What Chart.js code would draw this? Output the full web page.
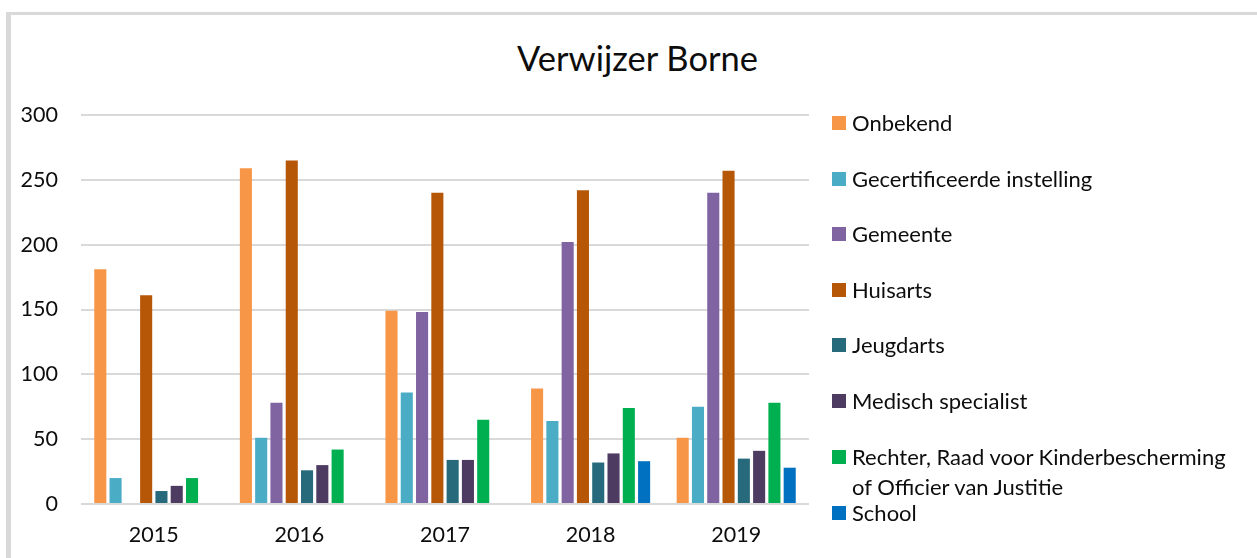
<!DOCTYPE html>
<html>
<head>
<meta charset="utf-8">
<script src="https://cdn.jsdelivr.net/npm/chart.js@4.4.1/dist/chart.umd.min.js"></script>
<style>
  html, body { margin: 0; padding: 0; background: #fff; }
  body { width: 1257px; height: 558px; position: relative; overflow: hidden; font-family: Lato, sans-serif; color: #0d0d0d; }
  #frame { position: absolute; left: 6px; top: 12px; width: 1300px; height: 600px; border-left: 5px solid #d9d9d9; border-top: 3px solid #d9d9d9; }
  #title { position: absolute; left: 0; width: 1275px; top: 37px; text-align: center; font-size: 34.5px; line-height: 42px; }
  #wrap { position: absolute; left: 0; top: 0; width: 1257px; height: 558px; }
  #legend { position: absolute; left: 832px; top: 108px; list-style: none; margin: 0; padding: 0; font-size: 22px; line-height: 30px; }
  #legend li { display: flex; align-items: flex-start; margin-bottom: 25.6px; }
  #legend li:last-child { margin-top: -29.6px; }
  #legend .box { width: 14px; height: 14px; margin-top: 8px; margin-right: 6px; flex: none; }
</style>
</head>
<body>
<div id="frame"></div>
<div id="title">Verwijzer Borne</div>
<div id="wrap"><canvas id="bars" width="1257" height="558"></canvas></div>
<ul id="legend"></ul>
<script>
const years = ['2015', '2016', '2017', '2018', '2019'];

const onbekend = [181, 259, 149, 89, 51];
const gecertificeerd = [20, 51, 86, 64, 75];
const gemeente = [null, 78, 148, 202, 240];
const huisarts = [161, 265, 240, 242, 257];
const jeugdarts = [10, 26, 34, 32, 35];
const medischSpecialist = [14, 30, 34, 39, 41];
const rechter = [20, 42, 65, 74, 78];
const school = [null, null, null, 33, 28];

const yTicks = [0, 50, 100, 150, 200, 250, 300];

const seriesNames = [
  'Onbekend',
  'Gecertificeerde instelling',
  'Gemeente',
  'Huisarts',
  'Jeugdarts',
  'Medisch specialist',
  'Rechter, Raad voor Kinderbescherming\nof Officier van Justitie',
  'School'
];
const seriesData = [onbekend, gecertificeerd, gemeente, huisarts, jeugdarts, medischSpecialist, rechter, school];
const seriesColors = ['#f79646', '#4bacc6', '#8064a2', '#b65708', '#276a7c', '#4d3b62', '#00b050', '#0070c0'];

const barConfig = {
  type: 'bar',
  data: {
    labels: years,
    datasets: seriesNames.map((name, i) => ({
      label: name,
      data: seriesData[i],
      backgroundColor: seriesColors[i],
      borderWidth: 0,
      categoryPercentage: 0.84,
      barPercentage: 0.79,
    })),
  },
  options: {
    responsive: false,
    animation: false,
    layout: { padding: { left: 0, right: 448, top: 115, bottom: 0 } },
    plugins: {
      legend: { display: false },
      title: { display: false },
      tooltip: { enabled: false },
    },
    scales: {
      x: {
        grid: { display: false, drawTicks: false },
        border: { display: false },
        ticks: { color: '#0d0d0d', font: { family: 'Lato', size: 21.5 }, padding: 18 },
        afterFit: (scale) => { scale.height = 54 },
      },
      y: {
        min: 0,
        max: 300,
        afterBuildTicks: (scale) => { scale.ticks = yTicks.map((v) => ({ value: v })) },
        grid: { color: '#d9d9d9', lineWidth: 2, drawTicks: false },
        border: { display: false },
        ticks: { color: '#0d0d0d', font: { family: 'Lato', size: 21.5 }, padding: 23 },
        afterFit: (scale) => { scale.width = 81 },
      },
    },
  },
};

const barsCtx = document.getElementById('bars');
window.myBar = new Chart(barsCtx, barConfig);

// legend in HTML, built from the chart's datasets
const legendEl = document.getElementById('legend');
window.myBar.data.datasets.forEach((ds) => {
  const li = document.createElement('li');
  const box = document.createElement('span');
  box.className = 'box';
  box.style.background = ds.backgroundColor;
  const txt = document.createElement('span');
  txt.innerHTML = ds.label.split('\n').join('<br>');
  li.appendChild(box);
  li.appendChild(txt);
  legendEl.appendChild(li);
});
</script>
</body>
</html>
